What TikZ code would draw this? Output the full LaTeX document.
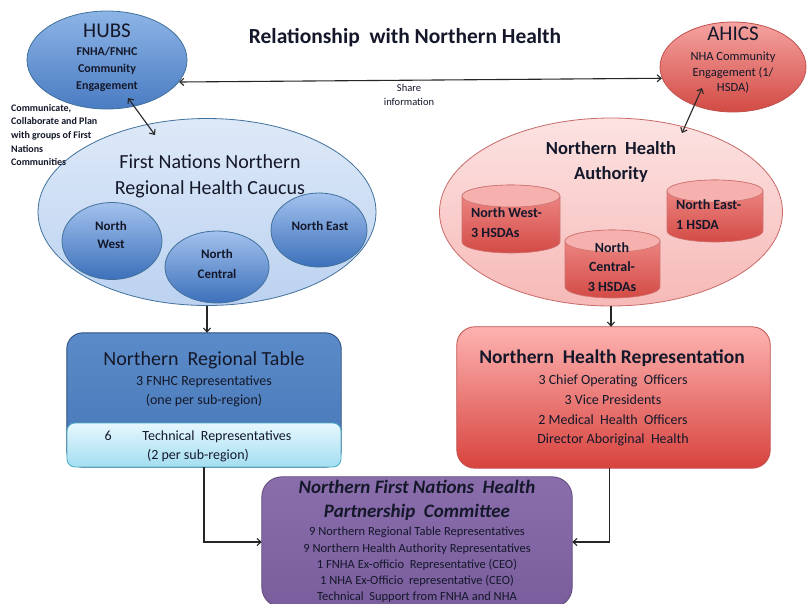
\documentclass[tikz,border=0pt]{standalone}
\usepackage{fontspec}
\setmainfont{Carlito}
\usetikzlibrary{shapes.geometric,arrows.meta,calc}
\definecolor{hubsT}{HTML}{8DB4E6}
\definecolor{hubsB}{HTML}{4A7CC2}
\definecolor{blueBd}{HTML}{41719C}
\definecolor{cauT}{HTML}{DDE9F8}
\definecolor{cauB}{HTML}{BCD2F0}
\definecolor{smT}{HTML}{A3C2EE}
\definecolor{smB}{HTML}{3C70BA}
\definecolor{ahT}{HTML}{F5A3A0}
\definecolor{ahB}{HTML}{D24A44}
\definecolor{redBd}{HTML}{C0504D}
\definecolor{nhaT}{HTML}{FCE3E2}
\definecolor{nhaB}{HTML}{F6B9B7}
\definecolor{cylT}{HTML}{F08F8C}
\definecolor{cylB}{HTML}{D34B46}
\definecolor{cylCap}{HTML}{F6B0AE}
\definecolor{tabT}{HTML}{5B8BC8}
\definecolor{tabB}{HTML}{4676B6}
\definecolor{tabBd}{HTML}{2F4F7F}
\definecolor{cyT}{HTML}{E6F7FD}
\definecolor{cyB}{HTML}{A3DEF1}
\definecolor{cyBd}{HTML}{4BACC6}
\definecolor{repT}{HTML}{FDB3B1}
\definecolor{repB}{HTML}{D8433E}
\definecolor{comT}{HTML}{8A6EAC}
\definecolor{comB}{HTML}{7A5D9C}
\definecolor{comBd}{HTML}{5F497A}
\definecolor{txt}{HTML}{14182A}
\newcommand\myfs[2]{\fontsize{#1}{#2}\selectfont}
\newcommand\drawcyl[5]{%
 \pgfmathsetmacro\cylcx{(#1+#2)/2}\pgfmathsetmacro\cylrx{(#2-#1)/2}%
 \draw[draw=redBd!80, line width=0.6pt, top color=cylT, bottom color=cylB] (#1,#3+#5) -- (#1,#4-#5) arc[start angle=180,end angle=0,x radius=\cylrx,y radius=#5] -- (#2,#3+#5) arc[start angle=0,end angle=-180,x radius=\cylrx,y radius=#5] -- cycle;
 \draw[draw=redBd!80, line width=0.6pt, fill=cylCap] (\cylcx,#3+#5) ellipse[x radius=\cylrx,y radius=#5];
}
\tikzset{
 lbl/.style={align=center, inner sep=0, text=txt},
 conn/.style={line width=1.1pt, draw=black!85},
 tipb/.style={-{Straight Barb[length=4pt,width=7pt]}},
 tipbb/.style={{Straight Barb[length=4pt,width=7pt]}-{Straight Barb[length=4pt,width=7pt]}},
 ell/.style={ellipse, inner sep=0, line width=0.8pt},
 box/.style={inner sep=0, rectangle},
}
\begin{document}
\begin{tikzpicture}[x=1pt,y=-1pt]
\useasboundingbox (0,0) rectangle (810,603);
\clip (0,0) rectangle (810,603);
\fill[white] (0,0) rectangle (810,603);

% title
\node[lbl, font=\bfseries\myfs{21.5}{24}] (title) at (405,38) {Relationship\ \ with Northern Health};

% HUBS
\node[ell, draw=blueBd, top color=hubsT, bottom color=hubsB, minimum width=160, minimum height=98] (hubs) at (107,60) {};
\node[lbl, font=\myfs{21}{24}] (hubst) at (107,31) {HUBS};
\node[lbl, font=\bfseries\myfs{12}{17}] (hubss) at (107,69) {FNHA/FNHC\\Community\\Engagement};

% AHICS
\node[ell, draw=redBd, top color=ahT, bottom color=ahB, minimum width=146, minimum height=90] (ahics) at (733,67) {};
\node[lbl, font=\myfs{21}{24}] (ahicst) at (733,34) {AHICS};
\node[lbl, font=\myfs{12.5}{15.5}] (ahicss) at (733,73) {NHA Community\\Engagement (1/\\HSDA)};

% share
\node[lbl, font=\myfs{10.5}{14}] (share) at (409,95) {Share\\information};

% Caucus
\node[ell, draw=blueBd, top color=cauT, bottom color=cauB, minimum width=338, minimum height=187] (caucus) at (207,212) {};
\node[lbl, font=\myfs{20}{26}] (caucust) at (210,176) {First Nations Northern\\Regional Health Caucus};
\node[ell, draw=blueBd, top color=smT, bottom color=smB, minimum width=100, minimum height=77] (nw) at (112,241) {};
\node[ell, draw=blueBd, top color=smT, bottom color=smB, minimum width=104, minimum height=72] (nc) at (217,267) {};
\node[ell, draw=blueBd, top color=smT, bottom color=smB, minimum width=96, minimum height=74] (ne) at (319,230) {};
\node[lbl, font=\bfseries\myfs{13}{18}] (nwt) at (111,235) {North\\West};
\node[lbl, font=\bfseries\myfs{13}{20}] (nct) at (217,264) {North\\Central};
\node[lbl, font=\bfseries\myfs{13}{18}] (net) at (320,226) {North East};

% annotation
\node[lbl, align=left, anchor=west, font=\bfseries\myfs{10}{13.7}] (annot) at (11,135) {Communicate,\\Collaborate and Plan\\with groups of First\\Nations\\Communities};

% NHA
\node[ell, draw=redBd!85, top color=nhaT, bottom color=nhaB, minimum width=343, minimum height=188] (nha) at (611,212) {};
\node[lbl, font=\bfseries\myfs{18.5}{25}] (nhat) at (611,162) {Northern\ \ Health\\Authority};
\drawcyl{462}{560}{185}{253}{11}
\drawcyl{667}{763}{180}{242}{11}
\drawcyl{565}{660}{230}{298}{11}
\node[lbl, align=left, anchor=west, font=\bfseries\myfs{14}{20}] (cylw) at (471,223) {North West-\\3 HSDAs};
\node[lbl, align=left, anchor=west, font=\bfseries\myfs{14}{20}] (cyle) at (676,215) {North East-\\1 HSDA};
\node[lbl, font=\bfseries\myfs{14}{19.5}] (cylc) at (612,267) {North\\Central-\\3 HSDAs};

% Northern Regional Table
\node[box, minimum width=274, minimum height=134] (table) at (204,400) {};
\draw[draw=tabBd, line width=0.9pt, top color=tabT, bottom color=tabB, rounded corners=16] (table.north west) rectangle (table.south east);
\draw[draw=cyBd, line width=0.8pt, top color=cyT, bottom color=cyB, rounded corners=8] (67,423) rectangle (341,467);
\node[lbl, font=\myfs{20}{22}] (tablet) at (204,360) {Northern\ \ Regional Table};
\node[lbl, font=\myfs{14}{19}] (tables) at (204,391.5) {3 FNHC Representatives\\(one per sub-region)};
\node[lbl, font=\myfs{14}{19}] (tech) at (198,446.5) {6\hspace{2.2em}Technical\ \ Representatives\\(2 per sub-region)};

% Northern Health Representation
\node[box, minimum width=313, minimum height=141] (nhrep) at (613.5,397.5) {};
\draw[draw=redBd, line width=0.8pt, top color=repT, bottom color=repB, rounded corners=18] (nhrep.north west) rectangle (nhrep.south east);
\node[lbl, font=\bfseries\myfs{19.5}{22}] (nhrept) at (612,358) {Northern\ \ Health Representation};
\node[lbl, font=\myfs{14}{19.7}] (nhreps) at (613,410.5) {3 Chief Operating\ \ Officers\\3 Vice Presidents\\2 Medical\ \ Health\ \ Officers\\Director Aboriginal\ \ Health};

% Committee
\node[box, minimum width=310, minimum height=130] (comm) at (417,542) {};
\draw[draw=comBd, line width=0.8pt, top color=comT, bottom color=comB, rounded corners=20] (comm.north west) rectangle (comm.south east);
\node[lbl, font=\bfseries\itshape\myfs{19}{24}] (commt) at (417,500) {Northern First Nations\ \ Health\\Partnership\ \ Committee};
\node[lbl, font=\myfs{12.5}{16.3}] (comms) at (417,565) {9 Northern Regional Table Representatives\\9 Northern Health Authority Representatives\\1 FNHA Ex-officio\ \ Representative (CEO)\\1 NHA Ex-Officio\ \ representative (CEO)\\Technical\ \ Support from FNHA and NHA};

% connectors
\draw[conn, tipbb] (hubs.-17) -- (ahics.189);
\draw[conn, tipbb] ($(hubs.center)+(21,38)$) -- ($(caucus.center)+(-52,-77)$);
\draw[conn, tipbb] ($(ahics.center)+(-31,21)$) -- ($(nha.center)+(71,-79)$);
\draw[conn, tipb] (caucus.south) -- (caucus.south |- table.north);
\draw[conn, tipb] (nha.south) -- (nha.south |- nhrep.north);
\draw[conn, tipb] (table.south) -- (table.south |- comm.west) -- (comm.west);
\draw[conn, tipb] ([xshift=-4pt]nhrep.south) -- ([xshift=-4pt]nhrep.south |- comm.east) -- (comm.east);
\end{tikzpicture}
\end{document}
